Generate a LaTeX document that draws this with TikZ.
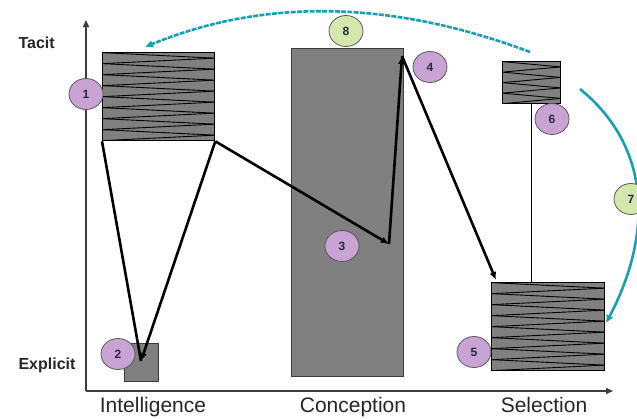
\documentclass[tikz,border=0pt]{standalone}
\usepackage{fontspec}
\setmainfont{Liberation Sans}
\usetikzlibrary{arrows.meta,calc,shapes.geometric}
\definecolor{boxgray}{RGB}{128,128,128}
\definecolor{axisgray}{RGB}{60,60,60}
\definecolor{flowcyan}{RGB}{22,160,182}
\definecolor{stepviolet}{RGB}{201,163,211}
\definecolor{stepgreen}{RGB}{212,232,174}
\definecolor{numink}{RGB}{40,40,70}
\begin{document}
\begin{tikzpicture}[x=1pt,y=-1pt,
  zigline/.style={black,line width=0.9pt},
  hatchbox/.style={draw=black,line width=1.3pt,fill=boxgray,inner sep=0pt,anchor=north west,
    path picture={
      \foreach \k in {1,...,#1}{
        \pgfmathsetmacro\ya{(\k-1)/#1}
        \pgfmathsetmacro\yb{\k/#1}
        \ifodd\k\relax
          \draw[zigline] ($(path picture bounding box.north west)!\ya!(path picture bounding box.south west)$)
            -- ($(path picture bounding box.north east)!\yb!(path picture bounding box.south east)$);
        \else
          \draw[zigline] ($(path picture bounding box.north east)!\ya!(path picture bounding box.south east)$)
            -- ($(path picture bounding box.north west)!\yb!(path picture bounding box.south west)$);
        \fi
      }
    }},
  plainbox/.style={draw=axisgray,line width=0.9pt,fill=boxgray,inner sep=0pt,anchor=north west},
  stepnum/.style={ellipse,draw=black!65,line width=0.8pt,minimum width=34pt,minimum height=31pt,
    inner sep=0pt,font=\bfseries\fontsize{12}{12}\selectfont,text=numink},
  violet/.style={stepnum,fill=stepviolet},
  greenish/.style={stepnum,fill=stepgreen},
  flow/.style={black,line width=2.6pt,-{Latex[length=8pt,width=7pt]}},
  loopflow/.style={flowcyan,line width=2.6pt,-{Latex[length=8pt,width=8pt]}},
  axis/.style={axisgray,line width=1.6pt,-{Triangle[length=7pt,width=6pt]}},
  axislabel/.style={anchor=base,font=\fontsize{21}{21}\selectfont,text=black!85},
  levellabel/.style={anchor=base west,font=\bfseries\fontsize{16}{16}\selectfont,text=black!85}
]
\clip (0,0) rectangle (637,418);
\useasboundingbox (0,0) rectangle (637,418);

% axes
\coordinate (origin) at (86,391);
\coordinate (ytop) at (86,20);
\coordinate (xend) at (613,391);
\draw[axis] (origin) -- (ytop);
\draw[axis] (origin) -- (xend);

\node[levellabel] (tacit) at (15,48) {Tacit};
\node[levellabel] (explicit) at (15,369) {Explicit};
\node[axislabel] (lint) at (153,412) {Intelligence};
\node[axislabel] (lcon) at (353,412) {Conception};
\node[axislabel] (lsel) at (544,412) {Selection};

% phase boxes
\node[hatchbox=16,minimum width=112pt,minimum height=88pt] (b1) at (102,52) {};
\node[plainbox,minimum width=34pt,minimum height=38pt] (b2) at (124,343) {};
\node[plainbox,minimum width=112pt,minimum height=328pt] (bc) at (291,48) {};
\node[hatchbox=8,minimum width=58pt,minimum height=42pt] (b6) at (502,61) {};
\node[hatchbox=16,minimum width=113pt,minimum height=88pt] (b5) at (491,282) {};

% path between the phases
\coordinate (p2) at (141,361);
\coordinate (p3) at (389,244);
\coordinate (p4) at (402,56);
\coordinate (p5) at (496,280);
\draw[black,line width=2.6pt] (b1.south west) -- (p2);
\draw[flow] (b1.south east) -- (p2);
\draw[flow] (b1.south east) -- (p3);
\draw[flow] (p3) -- (p4);
\draw[flow] (p4) -- (p5);
\draw[black,line width=1.3pt] (b6.south) -- (b5.north -| b6.south);

% feedback loops
\coordinate (t0) at (530,52);
\coordinate (t1) at (145,47);
\draw[loopflow,dash pattern=on 5pt off 1.3pt] (t0) .. controls (392,0) and (264,-2) .. (t1);
\coordinate (r0) at (580,89);
\coordinate (r1) at (606,323);
\draw[loopflow] (r0) .. controls (655,150) and (650,240) .. (r1);

% step markers
\node[violet] (c1) at (86,94) {1};
\node[violet] (c2) at (118,354) {2};
\node[violet] (c3) at (342,246) {3};
\node[violet] (c4) at (430,67) {4};
\node[violet] (c5) at (474,352) {5};
\node[violet] (c6) at (552,119) {6};
\node[greenish] (c7) at (631,199) {7};
\node[greenish] (c8) at (346,31) {8};
\end{tikzpicture}
\end{document}
